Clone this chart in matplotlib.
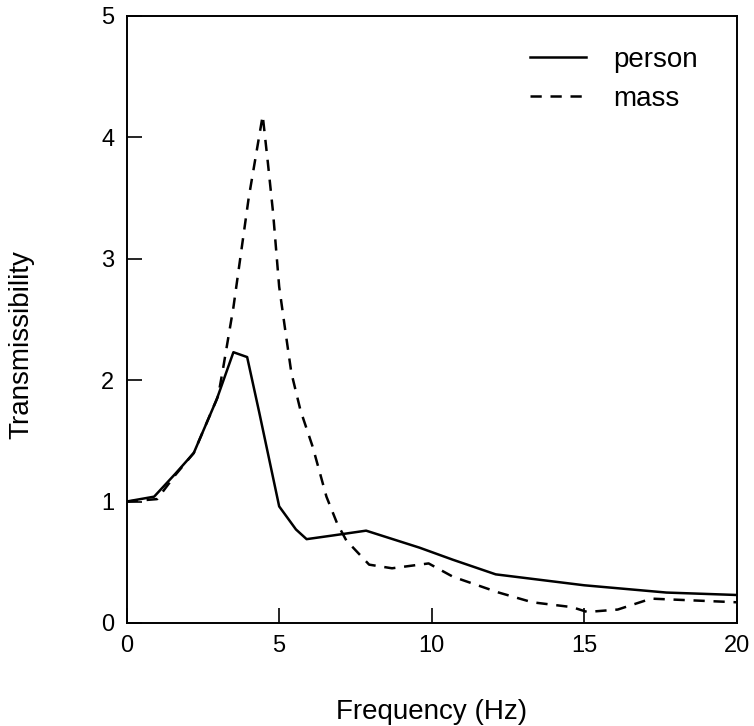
import matplotlib
matplotlib.use("Agg")
import matplotlib.pyplot as plt

plt.rcParams['font.family'] = ['Liberation Sans', 'DejaVu Sans']

# values
person_x = [0, 0.9, 1.6, 2.2, 2.95, 3.5, 3.95, 4.35, 5.0, 5.55, 5.9, 6.75,
            7.85, 9.6, 10.7, 12.1, 15.0, 17.7, 20]
person_y = [1.0, 1.04, 1.23, 1.40, 1.84, 2.23, 2.19, 1.73, 0.96, 0.77, 0.69,
            0.72, 0.76, 0.62, 0.52, 0.40, 0.31, 0.25, 0.23]

mass_x = [0, 1.0, 1.6, 2.2, 3.0, 3.15, 3.5, 4.0, 4.46, 4.63, 4.8, 5.0, 5.2,
          5.4, 5.7, 6.1, 6.55, 6.9, 7.2, 7.95, 8.7, 9.9, 10.7, 12.2, 13.3,
          14.6, 15.1, 16.1, 17.2, 20]
mass_y = [1.0, 1.02, 1.22, 1.40, 1.87, 2.08, 2.6, 3.5, 4.18, 3.79, 3.38, 2.77,
          2.41, 2.06, 1.75, 1.45, 1.04, 0.82, 0.68, 0.48, 0.45, 0.49, 0.38,
          0.25, 0.17, 0.13, 0.09, 0.11, 0.20, 0.17]

x_ticks = [0, 5, 10, 15, 20]
y_ticks = [0, 1, 2, 3, 4, 5]

fig = plt.figure(figsize=(7.54, 7.26), dpi=100)
ax = fig.add_axes([0.168, 0.142, 0.809, 0.836])

ax.plot(person_x, person_y, color='black', lw=1.8, label='person')
ax.plot(mass_x, mass_y, color='black', lw=1.8, dashes=(4.5, 3.5), label='mass')

ax.set_xlim(0, 20)
ax.set_ylim(0, 5)
ax.set_xticks(x_ticks)
ax.set_yticks(y_ticks)
ax.tick_params(direction='in', length=11, width=1.2, labelsize=17, pad=9,
               top=False, right=False)
for s in ax.spines.values():
    s.set_linewidth(1.4)

ax.set_xlabel("Frequency (Hz)", fontsize=20)
ax.set_ylabel("Transmissibility", fontsize=20)
ax.xaxis.set_label_coords(0.5, -0.125)
ax.yaxis.set_label_coords(-0.151, 0.458)

ax.legend(loc='upper right', bbox_to_anchor=(0.978, 0.99), frameon=False,
          fontsize=20, handlelength=2.0, handletextpad=1.0, labelspacing=0.45)

fig.savefig("out.png", dpi=100)
